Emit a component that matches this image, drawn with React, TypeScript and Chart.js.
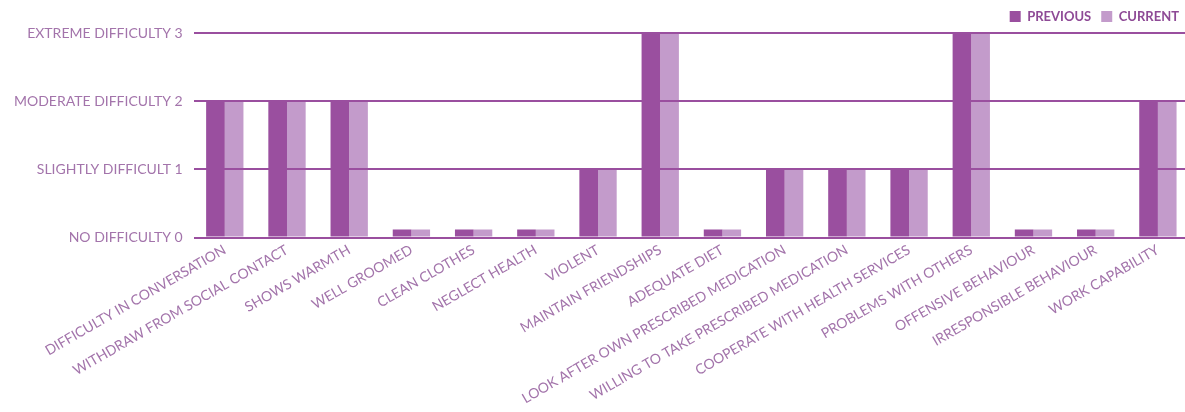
import React, { useEffect, useRef } from "react";
import { Chart, registerables } from "chart.js";

Chart.register(...registerables);

const categories = [
  "DIFFICULTY IN CONVERSATION",
  "WITHDRAW FROM SOCIAL CONTACT",
  "SHOWS WARMTH",
  "WELL GROOMED",
  "CLEAN CLOTHES",
  "NEGLECT HEALTH",
  "VIOLENT",
  "MAINTAIN FRIENDSHIPS",
  "ADEQUATE DIET",
  "LOOK AFTER OWN PRESCRIBED MEDICATION",
  "WILLING TO TAKE PRESCRIBED MEDICATION",
  "COOPERATE WITH HEALTH SERVICES",
  "PROBLEMS WITH OTHERS",
  "OFFENSIVE BEHAVIOUR",
  "IRRESPONSIBLE BEHAVIOUR",
  "WORK CAPABILITY",
];

const previousValues = [2, 2, 2, 0.12, 0.12, 0.12, 1, 3, 0.12, 1, 1, 1, 3, 0.12, 0.12, 2];
const currentValues = [2, 2, 2, 0.12, 0.12, 0.12, 1, 3, 0.12, 1, 1, 1, 3, 0.12, 0.12, 2];

const yTickLabels = [
  "NO DIFFICULTY 0",
  "SLIGHTLY DIFFICULT 1",
  "MODERATE DIFFICULTY 2",
  "EXTREME DIFFICULTY 3",
];

const seriesNames = ["PREVIOUS", "CURRENT"];

const DARK = "#9a4f9f";
const LIGHT = "#c39bcb";
const TEXT = "#a374ab";
const FONT = "Lato, 'Noto Sans', sans-serif";

export default function App() {
  const ref = useRef<HTMLCanvasElement | null>(null);
  useEffect(() => {
    if (!ref.current) return;
    const chart = new Chart(ref.current, {
      type: "bar",
      data: {
        labels: categories,
        datasets: [
          {
            label: seriesNames[0],
            data: previousValues,
            backgroundColor: DARK,
            borderWidth: 0,
            barPercentage: 1,
            categoryPercentage: 0.6,
          },
          {
            label: seriesNames[1],
            data: currentValues,
            backgroundColor: LIGHT,
            borderWidth: 0,
            barPercentage: 1,
            categoryPercentage: 0.6,
          },
        ],
      },
      options: {
        animation: false,
        responsive: true,
        maintainAspectRatio: false,
        layout: { padding: { left: 3, right: 0, top: 0, bottom: 1 } },
        plugins: {
          tooltip: { enabled: false },
          legend: {
            position: "top",
            align: "end",
            labels: {
              color: "#8e4a96",
              boxWidth: 11,
              boxHeight: 11,
              padding: 10,
              font: { family: FONT, size: 13, weight: "bold" },
            },
          },
        },
        scales: {
          x: {
            grid: { display: false, drawTicks: false },
            border: { display: false },
            ticks: {
              color: TEXT,
              font: { family: FONT, size: 14 },
              maxRotation: 30,
              minRotation: 30,
              autoSkip: false,
              padding: 4,
            },
          },
          y: {
            min: 0,
            max: 3,
            grid: { color: DARK, lineWidth: 2, drawTicks: false, z: 1 },
            border: { display: false },
            ticks: {
              stepSize: 1,
              color: TEXT,
              padding: 11,
              font: { family: FONT, size: 14 },
              callback: (v: any) => yTickLabels[Number(v)] ?? "",
            },
          },
        },
      },
    });
    return () => chart.destroy();
  }, []);
  return (
    <div style={{ position: "absolute", left: 0, top: 0, width: 1185, height: 412, overflow: "hidden", background: "#fff" }}>
      <div style={{ position: "relative", width: 1189, height: 412 }}>
        <canvas ref={ref} />
      </div>
    </div>
  );
}
